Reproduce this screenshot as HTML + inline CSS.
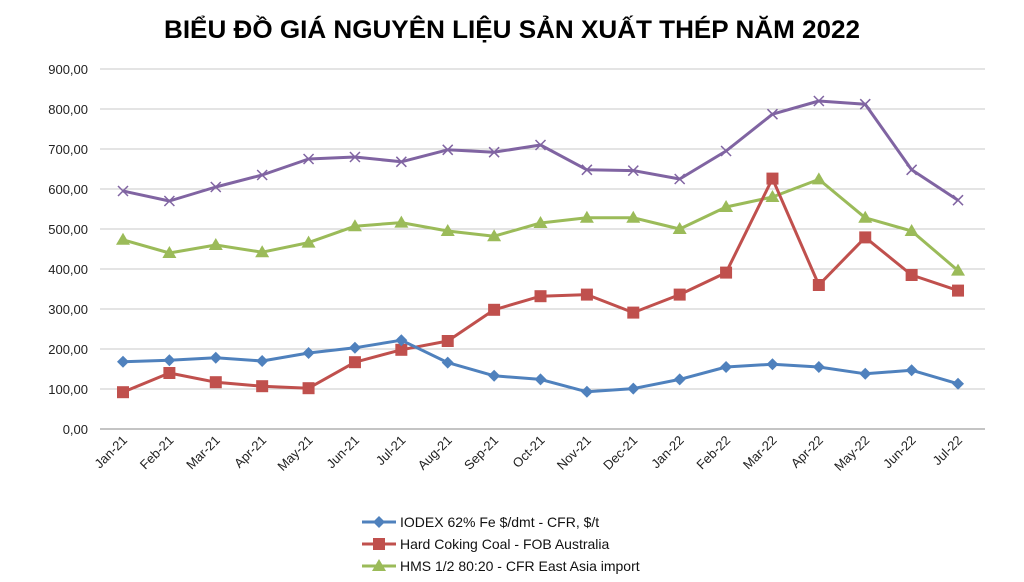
<!DOCTYPE html>
<html><head><meta charset="utf-8"><style>
html,body{margin:0;padding:0;background:#fff;}
svg{display:block;font-family:"Liberation Sans",Arial,sans-serif;}
</style></head><body>
<svg id="c" width="1024" height="582" viewBox="0 0 1024 582" xmlns="http://www.w3.org/2000/svg">
<text x="512" y="38" text-anchor="middle" font-size="25" font-weight="bold" fill="#000" textLength="696" lengthAdjust="spacingAndGlyphs">BIỂU ĐỒ GIÁ NGUYÊN LIỆU SẢN XUẤT THÉP NĂM 2022</text>
<g id="g"></g>
</svg>
<script>
var ns="http://www.w3.org/2000/svg",g=document.getElementById('g');
function el(t,a,txt){var e=document.createElementNS(ns,t);for(var k in a)e.setAttribute(k,a[k]);if(txt!=null)e.textContent=txt;g.appendChild(e);return e;}
function X(i){return 123+i*46.39;}function Y(v){return 429-v*0.4;}
for(var v=0;v<=900;v+=100){el('line',{x1:100,x2:985,y1:Y(v),y2:Y(v),stroke:v==0?'#888':'#c8c8c8','stroke-width':1});
el('text',{x:88,y:Y(v)+5,'text-anchor':'end','font-size':13,fill:'#222'},v.toFixed(2).replace('.',','));}
var m=['Jan-21','Feb-21','Mar-21','Apr-21','May-21','Jun-21','Jul-21','Aug-21','Sep-21','Oct-21','Nov-21','Dec-21','Jan-22','Feb-22','Mar-22','Apr-22','May-22','Jun-22','Jul-22'];
m.forEach(function(s,i){var x=X(i)+5,y=441;el('text',{x:x,y:y,'text-anchor':'end','font-size':13,fill:'#222',transform:'rotate(-45 '+x+' '+y+')'},s);});
var S=[
['#8064a2','x',[595,570,605,635,675,680,668,698,692,710,648,646,625,695,787,820,812,648,572]],
['#9bbb59','tri',[473,440,460,442,466,507,516,495,482,515,528,528,500,555,580,624,528,495,396]],
['#c0504d','sq',[92,140,117,107,102,167,198,220,298,332,336,291,336,391,626,360,479,385,346]],
['#4f81bd','dia',[168,172,178,170,190,203,222,166,133,124,93,101,124,155,162,155,138,147,113]]];
function mk(t,x,y,c){if(t=='sq')el('rect',{x:x-6,y:y-6,width:12,height:12,fill:c});
else if(t=='tri')el('polygon',{points:(x)+','+(y-7)+' '+(x-7)+','+(y+5)+' '+(x+7)+','+(y+5),fill:c});
else if(t=='dia')el('polygon',{points:x+','+(y-6)+' '+(x+6)+','+y+' '+x+','+(y+6)+' '+(x-6)+','+y,fill:c});
else if(t=='x')el('path',{d:'M'+(x-5)+' '+(y-5)+'L'+(x+5)+' '+(y+5)+'M'+(x+5)+' '+(y-5)+'L'+(x-5)+' '+(y+5),stroke:c,'stroke-width':1.5,fill:'none'});}
S.forEach(function(s){el('polyline',{points:s[2].map(function(v,i){return X(i)+','+Y(v)}).join(' '),fill:'none',stroke:s[0],'stroke-width':3,'stroke-linejoin':'round'});
s[2].forEach(function(v,i){mk(s[1],X(i),Y(v),s[0]);});});
var L=[['#4f81bd','dia','IODEX 62% Fe $/dmt - CFR, $/t',522],['#c0504d','sq','Hard Coking Coal - FOB Australia',544],['#9bbb59','tri','HMS 1/2 80:20 - CFR East Asia import',566]];
L.forEach(function(l){el('line',{x1:362,x2:396,y1:l[3],y2:l[3],stroke:l[0],'stroke-width':3});mk(l[1],379,l[3],l[0]);
el('text',{x:400,y:l[3]+5,'font-size':14,fill:'#111'},l[2]);});
</script>
</body></html>
